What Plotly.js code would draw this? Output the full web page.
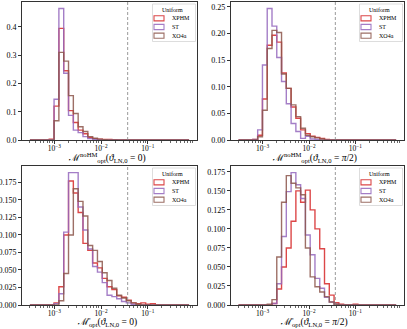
<!DOCTYPE html>
<html>
<head>
<meta charset="utf-8">
<script src="https://cdn.plot.ly/plotly-3.0.1.min.js"></script>
<style>body{margin:0;background:#fff}</style>
</head>
<body>
<div id="chart" style="width:407px;height:329px"></div>
<script>
// log-spaced histogram bins (log10 of the edges)
const binLo = -3.52, binHi = -0.12, nBins = 33;
const threshold = 0.037;   // dashed vertical line

const seriesNames = ['XPHM', 'ST', 'XO4a'];
const seriesColors = ['#d62728', '#9467bd', '#8c564b'];
const legendTitle = 'Uniform';
const xTickVals = [1e-3, 1e-2, 1e-1];
const xTickText = ['10<sup>−3</sup>', '10<sup>−2</sup>', '10<sup>−1</sup>'];

// fractions per bin, top-left panel
const p1XPHM = [0,0,0,0,0.003,0.120,0.395,0.245,0.104,0.062,0.035,0.022,0.009,0.005,0.003,0.002,0.002,0.001,0,0,0,0,0,0,0,0,0,0,0,0,0,0,0];
const p1ST   = [0,0,0,0,0.001,0.144,0.465,0.236,0.087,0.035,0.026,0.012,0.005,0.002,0.001,0,0,0,0,0,0,0,0,0,0,0,0,0,0,0,0,0,0];
const p1XO4a = [0,0,0,0,0,0.068,0.310,0.279,0.157,0.094,0.047,0.030,0.012,0.006,0.003,0.001,0,0,0,0,0,0,0,0,0,0,0,0,0,0,0,0,0];

// top-right panel
const p2XPHM = [0,0,0,0.001,0.009,0.077,0.178,0.197,0.184,0.126,0.097,0.062,0.041,0.019,0.012,0.007,0.005,0.003,0.001,0,0,0,0,0,0,0,0,0,0,0,0,0,0];
const p2ST   = [0,0,0,0.001,0.019,0.141,0.247,0.214,0.155,0.110,0.068,0.031,0.016,0.003,0.007,0.002,0.001,0,0,0,0,0,0,0,0,0,0,0,0,0,0,0,0];
const p2XO4a = [0,0,0,0,0.006,0.056,0.172,0.206,0.202,0.124,0.097,0.066,0.044,0.022,0.009,0.006,0.004,0.002,0,0,0,0,0,0,0,0,0,0,0,0,0,0,0];

// bottom-left panel
const p3XPHM = [0,0,0,0,0,0.003,0.026,0.100,0.177,0.160,0.132,0.088,0.078,0.060,0.053,0.038,0.026,0.022,0.013,0.011,0.007,0.003,0.002,0.003,0.001,0.002,0,0,0,0,0,0,0];
const p3ST   = [0,0,0,0,0,0.002,0.016,0.104,0.189,0.189,0.140,0.107,0.080,0.055,0.047,0.032,0.014,0.012,0.009,0.005,0.003,0.001,0,0,0,0,0,0,0,0,0,0,0];
const p3XO4a = [0,0,0,0,0,0,0.006,0.045,0.100,0.166,0.148,0.127,0.085,0.078,0.062,0.046,0.035,0.024,0.014,0.010,0.006,0.003,0.001,0,0,0,0,0,0,0,0,0,0];

// bottom-right panel
const p4XPHM = [0,0,0,0,0,0,0,0.002,0.021,0.050,0.075,0.110,0.150,0.135,0.151,0.125,0.100,0.074,0.028,0.013,0.003,0.001,0,0,0.001,0,0,0,0,0,0,0,0];
const p4ST   = [0,0,0,0,0,0,0,0.002,0.028,0.090,0.149,0.174,0.158,0.140,0.092,0.066,0.035,0.022,0.010,0.004,0.001,0,0,0,0,0,0,0,0,0,0,0,0];
const p4XO4a = [0,0,0,0,0,0,0.001,0.007,0.063,0.135,0.170,0.160,0.154,0.145,0.075,0.037,0.024,0.017,0.011,0.004,0.001,0,0,0,0,0,0,0,0,0,0,0,0];

const xTitles = [
    'ℳ<sup>noHM</sup><sub>opt</sub>(<i>ϑ</i><sub>LN,0</sub> = 0)',
    'ℳ<sup>noHM</sup><sub>opt</sub>(<i>ϑ</i><sub>LN,0</sub> = <i>π</i>/2)',
    'ℳ̄<sub>opt</sub>(<i>ϑ</i><sub>LN,0</sub> = 0)',
    'ℳ̄<sub>opt</sub>(<i>ϑ</i><sub>LN,0</sub> = <i>π</i>/2)'
];

const W = 407, H = 329;
const FONT = '"Liberation Serif", "DejaVu Serif", serif';
const px = v => v / W;
const py = v => 1 - v / H;

// axes boxes in pixels: left, right, top, bottom
const boxes = [[22, 197, 2, 140], [230.7, 404, 2, 140], [22, 197, 166, 305], [230.7, 404, 166, 305]];
const panelData = [[p1XPHM, p1ST, p1XO4a], [p2XPHM, p2ST, p2XO4a], [p3XPHM, p3ST, p3XO4a], [p4XPHM, p4ST, p4XO4a]];
const yTicks = [{dtick: 0.1, fmt: '.1f'}, {dtick: 0.05, fmt: '.2f'}, {dtick: 0.025, fmt: '.3f'}, {dtick: 0.025, fmt: '.3f'}];

const edges = [];
for (let i = 0; i <= nBins; i++) edges.push(Math.pow(10, binLo + (binHi - binLo) * i / nBins));

function stepXY(vals) {
    // matplotlib histtype='step' outline
    const x = [edges[0]], y = [0];
    vals.forEach((v, i) => { x.push(edges[i]); y.push(v); });
    x.push(edges[nBins], edges[nBins]);
    y.push(vals[nBins - 1], 0);
    return {x, y};
}

const span = binHi - binLo;
const xRange = [binLo - 0.05 * span, binHi + 0.05 * span];
const minorTicks = [];
for (let d = -4; d <= 0; d++) for (let m = 2; m <= 9; m++) minorTicks.push(m * Math.pow(10, d));

const traces = [], shapes = [], annotations = [];
const layout = {
    width: W, height: H,
    margin: {l: 0, r: 0, t: 0, b: 0},
    paper_bgcolor: 'white', plot_bgcolor: 'white',
    showlegend: false,
    font: {family: FONT, color: 'black'}
};

panelData.forEach((series, p) => {
    const n = p === 0 ? '' : String(p + 1);
    const [l, r, t, b] = boxes[p];
    let maxVal = 0;

    series.forEach((vals, s) => {
        const st = stepXY(vals);
        maxVal = Math.max(maxVal, ...vals);
        traces.push({
            x: st.x, y: st.y, type: 'scatter', mode: 'lines',
            name: seriesNames[s],
            line: {color: seriesColors[s], width: 1.4, shape: 'hv'},
            opacity: 0.85,
            xaxis: 'x' + n, yaxis: 'y' + n,
            hoverinfo: 'skip'
        });
    });

    layout['xaxis' + n] = {
        type: 'log', domain: [px(l), px(r)], anchor: 'y' + n, range: xRange,
        tickmode: 'array', tickvals: xTickVals, ticktext: xTickText,
        showline: true, mirror: true, linecolor: 'black', linewidth: 0.8,
        ticks: 'outside', ticklen: 3.5, tickwidth: 0.8, tickcolor: 'black',
        ticklabelstandoff: -2,
        minor: {tickmode: 'array', tickvals: minorTicks, ticks: 'outside', ticklen: 2, tickwidth: 0.6, tickcolor: 'black', showgrid: false},
        showgrid: false, zeroline: false, automargin: false,
        tickfont: {family: FONT, size: 7.5, color: 'black'}
    };
    layout['yaxis' + n] = {
        domain: [py(b), py(t)], anchor: 'x' + n, range: [0, maxVal * 1.05],
        tick0: 0, dtick: yTicks[p].dtick, tickformat: yTicks[p].fmt,
        showline: true, mirror: true, linecolor: 'black', linewidth: 0.8,
        ticks: 'outside', ticklen: 3, tickwidth: 0.8, tickcolor: 'black',
        showgrid: false, zeroline: false, automargin: false,
        tickfont: {family: FONT, size: 8, color: 'black'}
    };

    // x-axis label
    annotations.push({
        xref: 'paper', yref: 'paper', x: px((l + r) / 2 - 3), y: py(b + 17),
        text: xTitles[p], showarrow: false, xanchor: 'center', yanchor: 'middle',
        font: {family: FONT, size: 9.5, color: 'black'}
    });

    // dashed threshold
    shapes.push({
        type: 'line', xref: 'x' + n, yref: 'y' + n + ' domain',
        x0: threshold, x1: threshold, y0: 0, y1: 1,
        line: {color: '#808080', width: 0.8, dash: '3px,2px'}
    });

    // legend box, matplotlib style
    const x0 = r - 44.5, x1 = r - 1.5, y0 = t + 2, y1 = t + 39.5;
    shapes.push({
        type: 'rect', xref: 'paper', yref: 'paper',
        x0: px(x0), x1: px(x1), y0: py(y1), y1: py(y0),
        line: {color: '#d4d4d4', width: 0.8}, fillcolor: 'rgba(255,255,255,0.8)'
    });
    annotations.push({
        xref: 'paper', yref: 'paper', x: px((x0 + x1) / 2 - 2), y: py(t + 8),
        text: legendTitle, showarrow: false, xanchor: 'center', yanchor: 'middle',
        font: {family: FONT, size: 6, color: 'black'}
    });
    seriesNames.forEach((name, s) => {
        const yc = t + 16.3 + s * 8.7;
        shapes.push({
            type: 'rect', xref: 'paper', yref: 'paper',
            x0: px(x0 + 1.5), x1: px(x0 + 11.5), y0: py(yc + 2.6), y1: py(yc - 2.6),
            line: {color: seriesColors[s], width: 1.1}, fillcolor: 'rgba(0,0,0,0)', opacity: 0.85
        });
        annotations.push({
            xref: 'paper', yref: 'paper', x: px(x0 + 17.5), y: py(yc),
            text: name, showarrow: false, xanchor: 'left', yanchor: 'middle',
            font: {family: FONT, size: 6, color: 'black'}
        });
    });
});

layout.shapes = shapes;
layout.annotations = annotations;

Plotly.newPlot('chart', traces, layout, {staticPlot: true, displayModeBar: false});
</script>
</body>
</html>
